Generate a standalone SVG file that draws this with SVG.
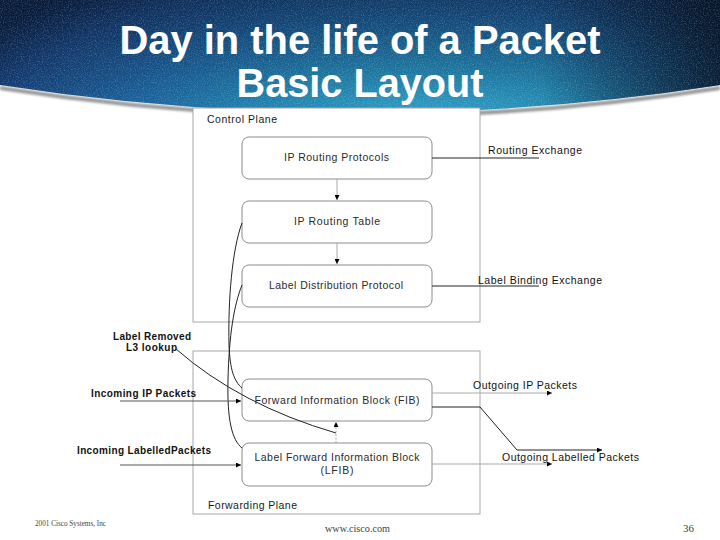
<svg xmlns="http://www.w3.org/2000/svg" width="720" height="540" viewBox="0 0 720 540">
<defs>
<radialGradient id="bannerGrad" gradientUnits="userSpaceOnUse" cx="0" cy="0" r="1" gradientTransform="translate(430,140) scale(520,200)">
<stop offset="0" stop-color="#36a8cc"/>
<stop offset="0.35" stop-color="#1f82ad"/>
<stop offset="0.6" stop-color="#19609a"/>
<stop offset="0.85" stop-color="#143f78"/>
<stop offset="1" stop-color="#0a2246"/>
</radialGradient>
<linearGradient id="rightDark" gradientUnits="userSpaceOnUse" x1="540" y1="0" x2="720" y2="0">
<stop offset="0" stop-color="#020c18" stop-opacity="0"/>
<stop offset="1" stop-color="#020c18" stop-opacity="0.75"/>
</linearGradient>
<linearGradient id="topDark" gradientUnits="userSpaceOnUse" x1="0" y1="0" x2="0" y2="100">
<stop offset="0" stop-color="#020c20" stop-opacity="0.35"/>
<stop offset="1" stop-color="#020c20" stop-opacity="0"/>
</linearGradient>
<filter id="tex" x="0" y="0" width="1" height="1">
<feTurbulence type="fractalNoise" baseFrequency="0.85" numOctaves="2" seed="4" result="n"/>
<feColorMatrix in="n" type="matrix" values="0 0 0 0 1  0 0 0 0 1  0 0 0 0 1  1.4 0 0 0 -0.62" result="speck"/>
<feComposite in="speck" in2="SourceAlpha" operator="in"/>
</filter>
<filter id="blur" x="-0.05" y="-0.5" width="1.1" height="2">
<feGaussianBlur stdDeviation="1.2"/>
</filter>
<marker id="arr" viewBox="0 0 10 10" refX="10" refY="5" markerWidth="6" markerHeight="5" markerUnits="userSpaceOnUse" orient="auto">
<path d="M0,0 L10,5 L0,10 Z" fill="#000"/>
</marker>
<style>
.panel{fill:#fff;stroke:#a8a8a8;stroke-width:1}
.box{fill:#fff;stroke:#8c8c8c;stroke-width:1}
.ntxt{font-family:"Liberation Sans",Arial,sans-serif;font-size:10.5px;fill:#2a2a2a}
.ptxt{font-family:"Liberation Sans",Arial,sans-serif;font-size:10.5px;fill:#1a1a1a}
.lbl{font-family:"Liberation Sans",Arial,sans-serif;font-size:10px;font-weight:bold;fill:#111}
.rlbl{font-family:"Liberation Sans",Arial,sans-serif;font-size:10.5px;fill:#111}
.title{font-family:"Liberation Sans Narrow","Liberation Sans",Arial,sans-serif;font-size:41px;font-weight:bold;fill:#fff}
.foot{font-family:"Liberation Serif","Times New Roman",serif;fill:#444}
.dark{fill:none;stroke:#222;stroke-width:1}
.mid{fill:none;stroke:#555;stroke-width:1}
.light{fill:none;stroke:#aaa;stroke-width:1}
</style>
</defs>
<rect width="720" height="540" fill="#fff"/>
<!-- banner -->
<g id="banner">
<path d="M0,88 Q360,144 720,88" fill="none" stroke="#9a9a9a" stroke-width="4" filter="url(#blur)"/>
<path d="M0,0 H720 V85 Q360,141 0,85 Z" fill="url(#bannerGrad)"/>
<path d="M0,0 H720 V85 Q360,141 0,85 Z" fill="url(#topDark)"/>
<path d="M0,0 H720 V85 Q360,141 0,85 Z" fill="url(#rightDark)"/>
<path d="M0,0 H720 V85 Q360,141 0,85 Z" fill="#000" filter="url(#tex)" opacity="0.35"/>
<text class="title" x="360" y="54" text-anchor="middle" textLength="481" lengthAdjust="spacingAndGlyphs">Day in the life of a Packet</text>
<text class="title" x="360" y="97" text-anchor="middle" textLength="247" lengthAdjust="spacingAndGlyphs">Basic Layout</text>
</g>
<!-- panels -->
<g id="control-plane">
<rect class="panel" x="193" y="108" width="287" height="214"/>
<text class="ptxt" x="207" y="123" textLength="70" lengthAdjust="spacing">Control Plane</text>
</g>
<g id="forwarding-plane">
<rect class="panel" x="193" y="351" width="287" height="163"/>
<text class="ptxt" x="208" y="509" textLength="89" lengthAdjust="spacing">Forwarding Plane</text>
</g>
<!-- nodes -->
<g id="ip-routing-protocols">
<rect class="box" x="242" y="137" width="190" height="42" rx="7"/>
<text class="ntxt" x="336.5" y="161" text-anchor="middle" textLength="105" lengthAdjust="spacing">IP Routing Protocols</text>
</g>
<g id="ip-routing-table">
<rect class="box" x="242" y="201" width="190" height="42" rx="7"/>
<text class="ntxt" x="337" y="225" text-anchor="middle" textLength="86" lengthAdjust="spacing">IP Routing Table</text>
</g>
<g id="label-distribution-protocol">
<rect class="box" x="242" y="265" width="190" height="42" rx="7"/>
<text class="ntxt" x="336" y="289" text-anchor="middle" textLength="134" lengthAdjust="spacing">Label Distribution Protocol</text>
</g>
<g id="fib">
<rect class="box" x="242" y="379" width="190" height="42" rx="7"/>
<text class="ntxt" x="337" y="403.5" text-anchor="middle" textLength="165" lengthAdjust="spacing">Forward Information Block (FIB)</text>
</g>
<g id="lfib">
<rect class="box" x="242" y="443" width="190" height="43" rx="7"/>
<text class="ntxt" x="337" y="461" text-anchor="middle" textLength="165" lengthAdjust="spacing">Label Forward Information Block</text>
<text class="ntxt" x="337" y="474" text-anchor="middle" textLength="33" lengthAdjust="spacing">(LFIB)</text>
</g>
<!-- connectors -->
<g id="connectors">
<path class="light" d="M337,179 V200" marker-end="url(#arr)"/>
<path class="light" d="M337,243 V264" marker-end="url(#arr)"/>
<path class="dark" d="M432,158 H539"/>
<path class="dark" d="M432,286 H539"/>
<path class="dark" d="M242,223 C232,250 228,300 229,345 C230,370 234,381 242,388"/>
<path class="dark" d="M242,285 C234,305 229,335 228,380 C227,420 232,440 242,448"/>
<path class="dark" d="M176,349 Q240,405 336,433"/>
<path class="light" d="M336,443 V422" stroke-dasharray="2 1.5" marker-end="url(#arr)"/>
<path class="mid" d="M120,401 H241" marker-end="url(#arr)"/>
<path class="mid" d="M120,465 H241" marker-end="url(#arr)"/>
<path class="light" d="M432,393 H552" marker-end="url(#arr)"/>
<path class="dark" d="M432,407 H480 L517,450 H602" marker-end="url(#arr)"/>
<path class="light" d="M432,464 H552" marker-end="url(#arr)"/>
</g>
<!-- labels -->
<g id="labels">
<text class="rlbl" x="488" y="153.5" textLength="94" lengthAdjust="spacing">Routing Exchange</text>
<text class="rlbl" x="478" y="283.5" textLength="124" lengthAdjust="spacing">Label Binding Exchange</text>
<text class="lbl" x="113" y="339.5" textLength="78" lengthAdjust="spacing">Label Removed</text>
<text class="lbl" x="126" y="351" textLength="51" lengthAdjust="spacing">L3 lookup</text>
<text class="lbl" x="91" y="396.5" textLength="105" lengthAdjust="spacing">Incoming IP Packets</text>
<text class="lbl" x="77" y="453.5" textLength="134" lengthAdjust="spacing">Incoming LabelledPackets</text>
<text class="rlbl" x="473" y="389" textLength="104" lengthAdjust="spacing">Outgoing IP Packets</text>
<text class="rlbl" x="502" y="461" textLength="137" lengthAdjust="spacing">Outgoing Labelled Packets</text>
</g>
<!-- footer -->
<g id="footer">
<text class="foot" x="35" y="525.5" font-size="7.5" textLength="71" lengthAdjust="spacingAndGlyphs">2001 Cisco Systems, Inc</text>
<text class="foot" x="325" y="531.5" font-size="11" textLength="65" lengthAdjust="spacingAndGlyphs">www.cisco.com</text>
<text class="foot" x="683" y="531.5" font-size="11">36</text>
</g>
</svg>
